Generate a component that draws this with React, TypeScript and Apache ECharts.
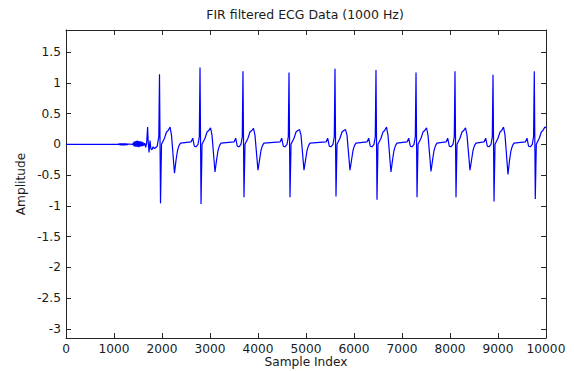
import React, { useEffect, useRef } from "react";
import * as echarts from "echarts";

const titleText = "FIR filtered ECG Data (1000 Hz)";
const xName = "Sample Index";
const yName = "Amplitude";

const xMin = 0;
const xMax = 10000;
const xInterval = 1000;
const yMin = -3.15;
const yMax = 1.86;

// Leading part of the recording: flat, a little noise, then the first blip
const onsetPoints: [number, number][] = [
  [0, 0], [1090, 0], [1100, 0.012], [1112, -0.012], [1124, 0.015], [1136, -0.015],
  [1148, 0.014], [1160, -0.016], [1172, 0.015], [1184, -0.015], [1196, 0.016],
  [1208, -0.014], [1220, 0.015], [1232, -0.016], [1244, 0.014], [1256, -0.013],
  [1268, 0.012], [1280, -0.01], [1292, 0.006], [1300, 0], [1396, 0],
  [1405, 0.03], [1415, -0.03], [1425, 0.045], [1435, -0.035], [1445, 0.05],
  [1455, -0.04], [1465, 0.055], [1475, -0.04], [1485, 0.06], [1495, -0.04],
  [1505, 0.055], [1515, -0.045], [1525, 0.05], [1535, -0.04], [1545, 0.05],
  [1555, -0.035], [1565, 0.045], [1575, -0.03], [1585, 0.04], [1595, -0.03],
  [1605, 0.03], [1620, -0.02], [1640, 0.02], [1660, -0.05], [1680, 0.02],
  [1700, 0.28], [1712, 0.05], [1730, -0.13], [1750, 0.06], [1768, -0.07],
  [1790, -0.09], [1815, -0.04], [1840, -0.07], [1870, -0.05], [1900, -0.03],
  [1933, 0.12],
];

// Per-beat landmarks
const beatR = [1948, 2792, 3687, 4646, 5604, 6458, 7292, 8104, 8896, 9756];
const beatTop = [1.14, 1.25, 1.19, 1.17, 1.23, 1.21, 1.17, 1.19, 1.13, 1.19];
const beatBottom = [-0.96, -0.97, -0.86, -0.86, -0.85, -0.9, -0.86, -0.86, -0.93, -0.89];
const beatTPeak = [0.28, 0.27, 0.26, 0.24, 0.24, 0.28, 0.27, 0.27, 0.28, 0.28];
const beatTTrough = [-0.47, -0.45, -0.42, -0.42, -0.42, -0.45, -0.44, -0.42, -0.49, -0.45];

// Shape points before each spike (offset in samples, amplitude)
const preOffset = [-187, -152, -119, -83, -42, -15];
const preLevel = [0.04, 0.1, -0.03, -0.04, 0.0, 0.12];
// Shape points after each spike
const postOffset = [42, 73, 104, 146, 177, 250, 344, 375, 406, 437];
const postLevel = [0.0, 0.05, 0.1, 0.2, 0.22, 0.15, -0.26, -0.1, -0.02, 0.02];
const sOffset = 21;
const tPeakOffset = 219;
const tTroughOffset = 312;

const endPoint: [number, number] = [10000, 0.27];

function buildSignal(): [number, number][] {
  const pts: [number, number][] = onsetPoints.slice();
  beatR.forEach((r, i) => {
    const beat: [number, number][] = [];
    if (i > 0) preOffset.forEach((o, j) => beat.push([r + o, preLevel[j]]));
    beat.push([r, beatTop[i]]);
    beat.push([r + sOffset, beatBottom[i]]);
    postOffset.forEach((o, j) => beat.push([r + o, postLevel[j]]));
    beat.push([r + tPeakOffset, beatTPeak[i]]);
    beat.push([r + tTroughOffset, beatTTrough[i]]);
    beat.sort((a, b) => a[0] - b[0]);
    beat.forEach((p) => {
      if (p[0] < endPoint[0]) pts.push(p);
    });
  });
  pts.push(endPoint);
  return pts;
}

const FONT = "DejaVu Sans";
const TXT = "#1a1a1a";
const AX = "#262626";

export default function App() {
  const ref = useRef<HTMLDivElement>(null);
  useEffect(() => {
    if (!ref.current) return;
    const chart = echarts.init(ref.current, undefined, { renderer: "svg" });
    const labelStyle = { fontFamily: FONT, fontSize: 12.2, color: TXT };
    const axisLine = { show: true, onZero: false, lineStyle: { color: AX, width: 1 } };
    const tick = { show: true, inside: true, length: 5, lineStyle: { color: AX, width: 1 } };
    const plain = (v: number) => String(v);
    chart.setOption({
      animation: false,
      backgroundColor: "#ffffff",
      grid: {
        left: 66,
        right: 28,
        top: 30,
        bottom: 33,
        containLabel: false,
        outerBoundsMode: "none",
      },
      graphic: [
        {
          type: "text",
          x: 305,
          y: 14,
          style: {
            text: titleText,
            align: "center",
            verticalAlign: "middle",
            fontFamily: FONT,
            fontSize: 12.5,
            fill: TXT,
          },
        },
      ],
      xAxis: [
        {
          type: "value",
          position: "bottom",
          min: xMin,
          max: xMax,
          interval: xInterval,
          axisLine,
          axisTick: tick,
          splitLine: { show: false },
          axisLabel: { ...labelStyle, margin: 5, formatter: plain },
          name: xName,
          nameLocation: "middle",
          nameGap: 18,
          nameMoveOverlap: false,
          nameTextStyle: { ...labelStyle },
        },
        {
          type: "value",
          position: "top",
          min: xMin,
          max: xMax,
          interval: xInterval,
          axisLine,
          axisTick: tick,
          splitLine: { show: false },
          axisLabel: { show: false },
        },
      ],
      yAxis: [
        {
          type: "value",
          position: "left",
          min: yMin,
          max: yMax,
          splitNumber: 10,
          axisLine,
          axisTick: tick,
          splitLine: { show: false },
          axisLabel: {
            ...labelStyle,
            margin: 5,
            showMinLabel: false,
            showMaxLabel: false,
            formatter: plain,
          },
          name: yName,
          nameLocation: "middle",
          nameGap: 39,
          nameRotate: 90,
          nameMoveOverlap: false,
          nameTextStyle: { ...labelStyle },
        },
        {
          type: "value",
          position: "right",
          min: yMin,
          max: yMax,
          splitNumber: 10,
          axisLine,
          axisTick: tick,
          splitLine: { show: false },
          axisLabel: { show: false },
        },
      ],
      series: [
        {
          type: "line",
          xAxisIndex: 0,
          yAxisIndex: 0,
          data: buildSignal(),
          showSymbol: false,
          symbol: "none",
          lineStyle: { color: "#0000ff", width: 1.2 },
          silent: true,
        },
      ],
    });
    return () => chart.dispose();
  }, []);
  return (
    <div
      ref={ref}
      style={{ position: "fixed", left: 0, top: 0, width: 574, height: 371, background: "#fff" }}
    />
  );
}
